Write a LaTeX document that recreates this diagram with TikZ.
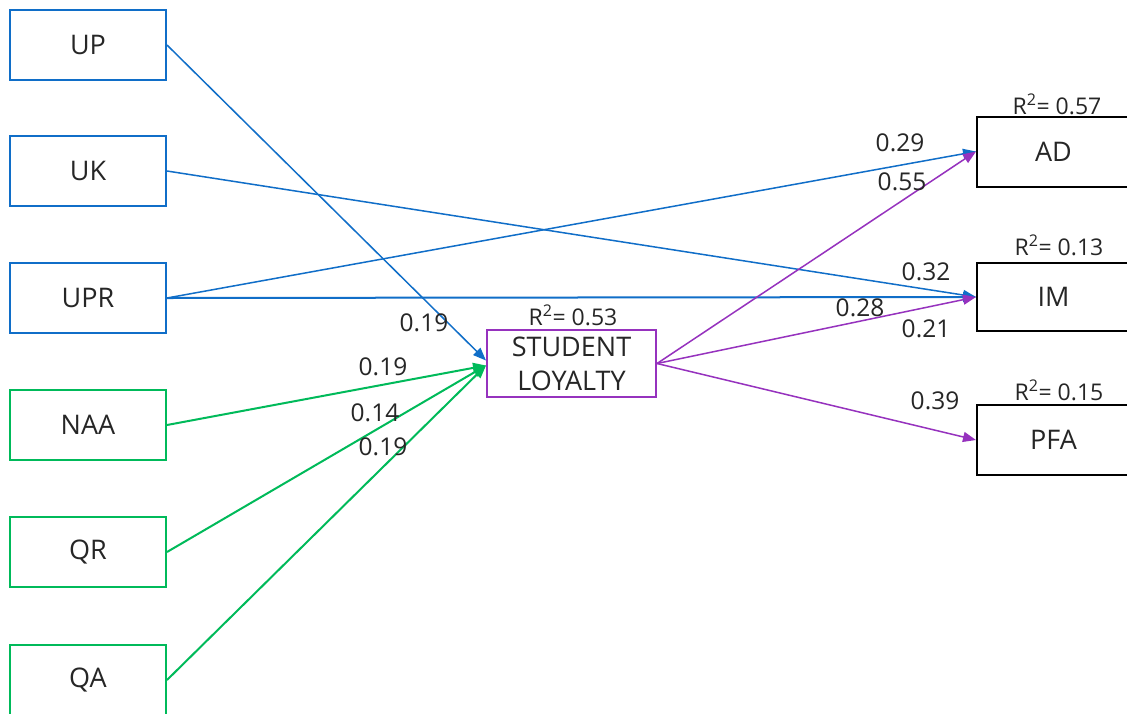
\documentclass[tikz,border=0pt]{standalone}
\usepackage{fontspec}
\setmainfont{Open Sans}
\usetikzlibrary{arrows.meta}
\definecolor{cblue}{RGB}{16,110,200}
\definecolor{cgreen}{RGB}{0,186,90}
\definecolor{cpurple}{RGB}{150,50,190}
\tikzset{
  box/.style={draw, line width=2pt, rectangle, minimum width=156pt, minimum height=70pt, inner sep=0pt, text=black!85, font=\fontsize{27}{32}\selectfont},
  bluebox/.style={box, draw=cblue},
  greenbox/.style={box, draw=cgreen},
  blackbox/.style={box, draw=black, minimum width=153pt},
  slbox/.style={box, draw=cpurple, minimum width=169pt, minimum height=67pt, align=center, font=\fontsize{27}{34}\selectfont},
  coef/.style={inner sep=0pt, text=black!85, font=\fontsize{24.5}{28}\selectfont},
  rsq/.style={inner sep=0pt, text=black!85, font=\fontsize{23}{26}\selectfont},
  tip/.style={-{Triangle[length=13pt,width=10pt]}},
  bluearr/.style={tip, draw=cblue, fill=cblue, line width=1.5pt},
  greenarr/.style={tip, draw=cgreen, fill=cgreen, line width=2pt},
  purparr/.style={tip, draw=cpurple, fill=cpurple, line width=1.5pt},
}
\begin{document}
\begin{tikzpicture}[x=1pt,y=-1pt]
\clip (0,0) rectangle (1127,713);
\fill[white] (0,0) rectangle (1127,713);
% left boxes
\node[bluebox] (UP) at (88,45) {UP};
\node[bluebox] (UK) at (88,171) {UK};
\node[bluebox] (UPR) at (88,298) {UPR};
\node[greenbox] (NAA) at (88,425) {NAA};
\node[greenbox] (QR) at (88,552) {QR};
\node[greenbox] (QA) at (88,680) {QA};
% center
\node[slbox] (SL) at (571.5,363.5) {STUDENT\\LOYALTY};
% right boxes
\node[blackbox] (AD) at (1053.5,151.5) {AD};
\node[blackbox, minimum height=68pt] (IM) at (1053.5,297) {IM};
\node[blackbox] (PFA) at (1053.5,440) {PFA};
% connectors
\draw[bluearr] (UP.east) -- ([yshift=3pt]SL.west);
\draw[bluearr] (UK.east) -- (IM.west);
\draw[bluearr] (UPR.east) -- (AD.west);
\draw[bluearr, line width=2pt] (UPR.east) -- (IM.west);
\draw[greenarr] (NAA.east) -- ([yshift=-2pt]SL.west);
\draw[greenarr] (QR.east) -- ([yshift=-2pt]SL.west);
\draw[greenarr] (QA.east) -- ([yshift=-2pt]SL.west);
\draw[purparr] (SL.east) -- (AD.west);
\draw[purparr] (SL.east) -- (IM.west);
\draw[purparr] (SL.east) -- (PFA.west);
% coefficients
\node[coef] (c1) at (424,323) {0.19};
\node[coef] (c2) at (383,367) {0.19};
\node[coef] (c3) at (375,413) {0.14};
\node[coef] (c4) at (383,447) {0.19};
\node[coef] (c5) at (900,143) {0.29};
\node[coef] (c6) at (902,182) {0.55};
\node[coef] (c7) at (926,272) {0.32};
\node[coef] (c8) at (860,308) {0.28};
\node[coef] (c9) at (926,329) {0.21};
\node[coef] (c10) at (935,401) {0.39};
% R squared
\node[rsq] (r1) at (573,315) {R\textsuperscript{2}= 0.53};
\node[rsq] (r2) at (1057,104) {R\textsuperscript{2}= 0.57};
\node[rsq] (r3) at (1059,245) {R\textsuperscript{2}= 0.13};
\node[rsq] (r4) at (1059,390) {R\textsuperscript{2}= 0.15};
\end{tikzpicture}
\end{document}
